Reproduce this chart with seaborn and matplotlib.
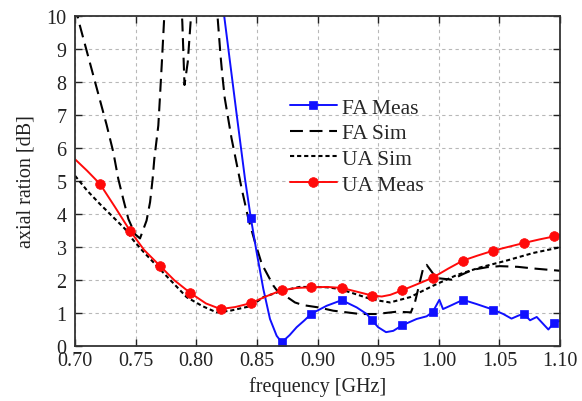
"""
Axial ratio vs. frequency: FA / UA, measured and simulated.
"""

import numpy as np
import matplotlib
matplotlib.use("Agg")
import matplotlib.pyplot as plt
import matplotlib.ticker as mticker
import seaborn as sns

# ── data ────────────────────────────────────────────────────────────────────

FA_MEAS_F = [0.823, 0.833, 0.8402, 0.845, 0.8498, 0.8553, 0.8608, 0.8663, 0.8705,
             0.8770, 0.8828, 0.8890, 0.895, 0.9076, 0.920, 0.9323, 0.9406, 0.945,
             0.950, 0.9565, 0.9625, 0.970, 0.9818, 0.990, 0.995, 1.0005, 1.0035,
             1.0107, 1.020, 1.0313, 1.045, 1.0532, 1.060, 1.0656, 1.070, 1.0753,
             1.0808, 1.0904, 1.095, 1.100]
FA_MEAS_AR = [10.0, 7.1, 5.05, 3.87, 2.83, 1.72, 0.81, 0.30, 0.10,
              0.32, 0.56, 0.76, 0.97, 1.21, 1.38, 1.16, 0.96, 0.77,
              0.56, 0.41, 0.45, 0.62, 0.81, 0.89, 1.02, 1.39, 1.11,
              1.23, 1.39, 1.26, 1.09, 0.96, 0.82, 0.91, 0.97, 0.77,
              0.87, 0.49, 0.70, 0.75]
FA_MEAS_MARK = [0.845, 0.8705, 0.895, 0.920, 0.945, 0.970, 0.995, 1.020, 1.045, 1.070, 1.095]

UA_MEAS_F = [0.700, 0.710, 0.7206, 0.733, 0.7454, 0.757, 0.770, 0.782, 0.795, 0.808,
             0.820, 0.832, 0.845, 0.858, 0.8705, 0.883, 0.895, 0.908, 0.920, 0.932,
             0.945, 0.953, 0.960, 0.970, 0.982, 0.995, 1.008, 1.020, 1.032, 1.045,
             1.058, 1.070, 1.083, 1.095, 1.100]
UA_MEAS_AR = [5.65, 5.30, 4.90, 4.20, 3.48, 2.90, 2.42, 1.98, 1.60, 1.28,
              1.11, 1.17, 1.29, 1.50, 1.68, 1.75, 1.77, 1.78, 1.75, 1.64,
              1.52, 1.49, 1.54, 1.68, 1.86, 2.06, 2.34, 2.58, 2.73, 2.88,
              3.00, 3.11, 3.22, 3.31, 3.36]
UA_MEAS_MARK = [0.7206, 0.7454, 0.770, 0.795, 0.820, 0.845, 0.8705, 0.895, 0.920,
                0.945, 0.970, 0.995, 1.020, 1.045, 1.070, 1.095]

UA_SIM_F = [0.700, 0.710, 0.7206, 0.7316, 0.7412, 0.748, 0.7563, 0.770, 0.7921, 0.805,
            0.8167, 0.828, 0.845, 0.8553, 0.8705, 0.885, 0.895, 0.9076, 0.918, 0.930,
            0.945, 0.9598, 0.9763, 0.9955, 1.0148, 1.034, 1.056, 1.078, 1.100]
UA_SIM_AR = [5.15, 4.70, 4.29, 3.89, 3.54, 3.20, 2.85, 2.32, 1.47, 1.20,
             1.01, 1.06, 1.20, 1.47, 1.66, 1.78, 1.78, 1.77, 1.72, 1.58,
             1.40, 1.31, 1.47, 1.82, 2.14, 2.37, 2.58, 2.81, 2.98]

FA_SIM_F = [0.700, 0.704, 0.715, 0.726, 0.7316, 0.7357, 0.7398, 0.744, 0.7495, 0.7536,
            0.759, 0.7619, 0.764, 0.7654, 0.7687, 0.770, 0.7715, 0.7735, 0.776,
            0.786, 0.7885, 0.7903, 0.793, 0.7955, 0.798,
            0.816, 0.8175, 0.820, 0.8215, 0.8235, 0.829, 0.8375, 0.843, 0.8485, 0.854,
            0.8636, 0.866, 0.8814, 0.888, 0.9007, 0.913, 0.935, 0.9488, 0.9653, 0.977,
            0.9804, 0.9873, 0.990, 0.994, 0.998, 1.0107, 1.020, 1.028, 1.040, 1.0505,
            1.065, 1.078, 1.100]
FA_SIM_AR = [10.3, 9.7, 8.2, 6.7, 5.86, 5.05, 4.44, 3.84, 3.38, 3.25,
             3.79, 4.35, 5.05, 5.66, 6.67, 7.50, 8.50, 9.90, 11.5,
             11.5, 9.80, 7.90, 8.60, 9.90, 11.5,
             11.5, 10.0, 8.80, 8.20, 7.50, 6.30, 4.75, 3.84, 3.13, 2.48,
             1.82, 1.70, 1.31, 1.23, 1.16, 1.06, 0.96, 0.96, 1.03, 1.01,
             1.32, 2.37, 2.45, 2.25, 2.05, 2.00, 2.17, 2.30, 2.38, 2.41,
             2.39, 2.34, 2.27]

X_TICKS = [0.70, 0.75, 0.80, 0.85, 0.90, 0.95, 1.00, 1.05, 1.10]
Y_TICKS = list(range(0, 11))

# ── style ───────────────────────────────────────────────────────────────────

sns.set_theme(style="ticks")
plt.rcParams["font.family"] = ["Liberation Serif", "DejaVu Serif"]
FS = 14.5
LEG_FS = 15.5


def mark_idx(xs, marks):
    xs = np.asarray(xs)
    return [int(np.argmin(np.abs(xs - m))) for m in marks]


fig = plt.figure(figsize=(5.82, 4.02), dpi=100)
ax = fig.add_axes([0.1289, 0.1376, 0.8333, 0.8209])

sns.lineplot(x=UA_SIM_F, y=UA_SIM_AR, ax=ax, color="black", lw=1.5,
             linestyle=(0, (2.0, 1.4)), label="UA Sim")
sns.lineplot(x=FA_SIM_F, y=FA_SIM_AR, ax=ax, color="black", lw=1.5,
             linestyle=(0, (6.2, 3.2)), label="FA Sim")
sns.lineplot(x=FA_MEAS_F, y=FA_MEAS_AR, ax=ax, color="#1010ff", lw=1.4,
             marker="s", markersize=5.6, markeredgecolor="#1010ff", markeredgewidth=0.5,
             markevery=mark_idx(FA_MEAS_F, FA_MEAS_MARK), label="FA Meas")
sns.lineplot(x=UA_MEAS_F, y=UA_MEAS_AR, ax=ax, color="#ff0a0a", lw=1.4,
             marker="o", markersize=7.0, markeredgecolor="#ff0a0a", markeredgewidth=0.5,
             markevery=mark_idx(UA_MEAS_F, UA_MEAS_MARK), label="UA Meas")

ax.set_xlim(0.70, 1.10)
ax.set_ylim(0, 10)
ax.set_xticks(X_TICKS)
ax.set_yticks(Y_TICKS)
ax.xaxis.set_major_formatter(mticker.FormatStrFormatter("%.2f"))
ax.tick_params(direction="in", length=5, width=1.0, top=True, right=True,
               labelsize=FS, colors="#222222")
ax.tick_params(axis="x", pad=4)
ax.tick_params(axis="y", pad=6)
ax.grid(True, color="#b8b8b8", linestyle=(0, (3, 3)), linewidth=0.8)
for s in ax.spines.values():
    s.set_color("#333333")
    s.set_linewidth(1.3)

ax.set_xlabel("frequency [GHz]", fontsize=FS, labelpad=4, color="#222222")
ax.set_ylabel("axial ration [dB]", fontsize=FS, labelpad=8, color="#222222")

handles, labels = ax.get_legend_handles_labels()
order = ["FA Meas", "FA Sim", "UA Sim", "UA Meas"]
hmap = dict(zip(labels, handles))
ax.legend([hmap[k] for k in order], order, loc="upper left",
          bbox_to_anchor=(0.443, 0.752), frameon=False, fontsize=LEG_FS,
          handlelength=2.19, handletextpad=0.23, labelspacing=0.26,
          borderpad=0, borderaxespad=0)

fig.savefig("out.png", dpi=100)
plt.close(fig)
